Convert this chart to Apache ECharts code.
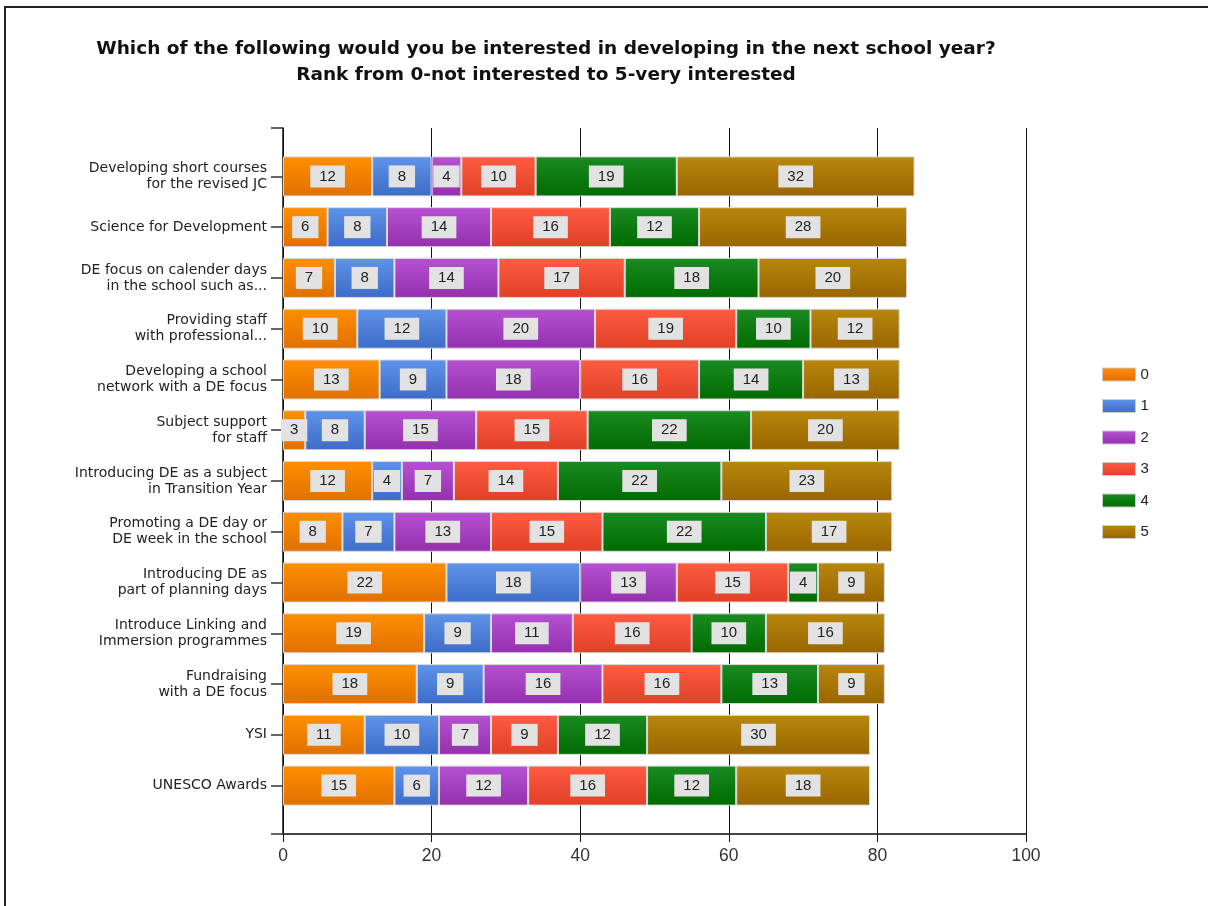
<!DOCTYPE html>
<html>
<head>
<meta charset="utf-8">
<script src="https://cdn.jsdelivr.net/npm/echarts@6/dist/echarts.min.js"></script>
<style>
html,body{margin:0;padding:0;background:#fff;}
#chart{width:1208px;height:906px;}
</style>
</head>
<body>
<div id="chart"></div>
<script>
var categories = [
  "Developing short courses\nfor the revised JC",
  "Science for Development",
  "DE focus on calender days\nin the school such as...",
  "Providing staff\nwith professional...",
  "Developing a school\nnetwork with a DE focus",
  "Subject support\nfor staff",
  "Introducing DE as a subject\nin Transition Year",
  "Promoting a DE day or\nDE week in the school",
  "Introducing DE as\npart of planning days",
  "Introduce Linking and\nImmersion programmes",
  "Fundraising\nwith a DE focus",
  "YSI",
  "UNESCO Awards"
];
var rank0 = [12, 6, 7, 10, 13, 3, 12, 8, 22, 19, 18, 11, 15];
var rank1 = [8, 8, 8, 12, 9, 8, 4, 7, 18, 9, 9, 10, 6];
var rank2 = [4, 14, 14, 20, 18, 15, 7, 13, 13, 11, 16, 7, 12];
var rank3 = [10, 16, 17, 19, 16, 15, 14, 15, 15, 16, 16, 9, 16];
var rank4 = [19, 12, 18, 10, 14, 22, 22, 22, 4, 10, 13, 12, 12];
var rank5 = [32, 28, 20, 12, 13, 20, 23, 17, 9, 16, 9, 30, 18];
var seriesNames = ["0", "1", "2", "3", "4", "5"];
var xTicks = [0, 20, 40, 60, 80, 100];
var titleText = "Which of the following would you be interested in developing in the next school year?\nRank from 0-not interested to 5-very interested";

var gradients = [
  ["#ff8f00", "#e07000"],
  ["#5f93ea", "#3d6cc6"],
  ["#b652d2", "#9430ae"],
  ["#ff5c42", "#df4026"],
  ["#1a8c22", "#006a00"],
  ["#b8870c", "#996500"]
];
var allData = [rank0, rank1, rank2, rank3, rank4, rank5];

function grad(c) {
  return new echarts.graphic.LinearGradient(0, 0, 0, 1, [
    {offset: 0, color: c[0]}, {offset: 1, color: c[1]}
  ]);
}

var series = seriesNames.map(function (name, i) {
  return {
    name: name,
    type: 'bar',
    stack: 'total',
    xAxisIndex: 0,
    yAxisIndex: 0,
    barWidth: 40,
    data: allData[i],
    itemStyle: {color: grad(gradients[i]), borderColor: '#d9d9d9', borderWidth: 1},
    label: {
      show: true,
      position: 'inside',
      formatter: '{c}',
      backgroundColor: '#e2e2e2',
      padding: [4, 9, 3, 9],
      fontSize: 15,
      fontFamily: 'Liberation Sans, Arial, sans-serif',
      color: '#222'
    },
    emphasis: {disabled: true}
  };
});

var chart = echarts.init(document.getElementById('chart'), null, {renderer: 'canvas'});
chart.setOption({
  animation: false,
  backgroundColor: '#fff',
  textStyle: {fontFamily: 'Liberation Sans, Arial, sans-serif'},
  title: {
    text: titleText,
    left: 541,
    top: 31,
    textAlign: 'center',
    textStyle: {fontSize: 18.5, fontWeight: 'bold', color: '#111', lineHeight: 26, fontFamily: 'DejaVu Sans, sans-serif'}
  },
  legend: {
    orient: 'vertical',
    left: 1097,
    top: 361,
    itemWidth: 33,
    itemHeight: 13,
    itemGap: 14.5,
    icon: 'rect',
    data: seriesNames,
    itemStyle: {borderColor: '#ccc', borderWidth: 1},
    textStyle: {fontSize: 15, color: '#222', lineHeight: 17, padding: [0, 0, 0, 0]}
  },
  graphic: [{
    type: 'rect',
    shape: {x: 5, y: 7, width: 1400, height: 1200},
    style: {fill: 'none', stroke: '#222', lineWidth: 2},
    silent: true
  }],
  grid: [
    {left: 283, right: 182, top: 151, bottom: 95},
    {left: 283, right: 182, top: 128, bottom: 72}
  ],
  xAxis: [
    {gridIndex: 0, type: 'value', min: 0, max: 100, interval: 20, show: false},
    {
      gridIndex: 1, type: 'value', min: 0, max: 100, interval: 20,
      axisLine: {show: true, onZero: false, lineStyle: {color: '#444', width: 2}},
      axisTick: {show: true, length: 8, lineStyle: {color: '#111', width: 1}},
      axisLabel: {fontSize: 17.5, color: '#333', margin: 13},
      splitLine: {show: true, lineStyle: {color: '#111', width: 1}}
    }
  ],
  yAxis: [
    {
      gridIndex: 0, type: 'category', inverse: true, data: categories,
      axisLine: {show: false},
      axisTick: {show: true, alignWithLabel: true, length: 12, lineStyle: {color: '#333', width: 1.5}},
      axisLabel: {fontSize: 14, color: '#222', lineHeight: 16, margin: 16, align: 'right', fontFamily: 'DejaVu Sans, sans-serif'},
      splitLine: {show: false}
    },
    {
      gridIndex: 1, type: 'value', min: 0, max: 1, interval: 1,
      axisLine: {show: true, onZero: false, lineStyle: {color: '#111', width: 1.5}},
      axisTick: {show: true, length: 12, lineStyle: {color: '#333', width: 1.5}},
      axisLabel: {show: false},
      splitLine: {show: false}
    }
  ],
  series: series
});
</script>
</body>
</html>
